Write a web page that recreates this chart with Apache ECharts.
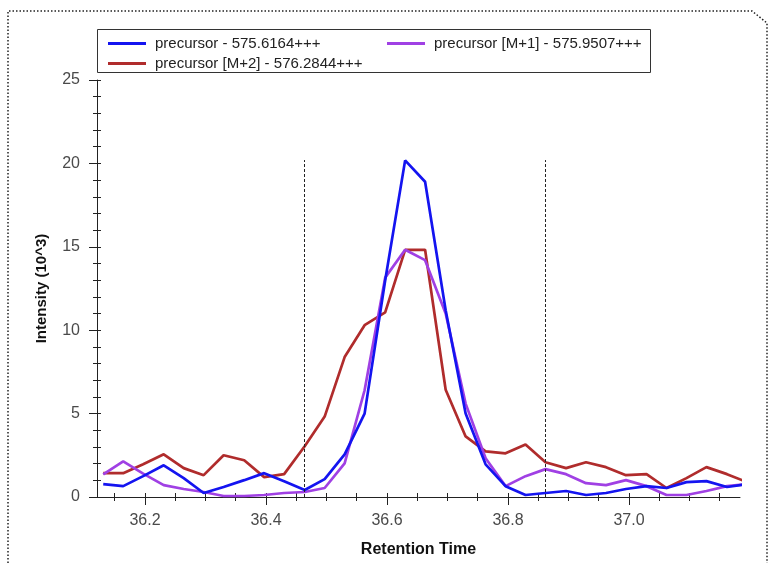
<!DOCTYPE html>
<html>
<head>
<meta charset="utf-8">
<script src="https://cdn.jsdelivr.net/npm/echarts@6/dist/echarts.min.js"></script>
<style>
html,body{margin:0;padding:0;background:#fff;}
#c{width:771px;height:563px;}
</style>
</head>
<body>
<div id="c"></div>
<script>
const seriesNames = ['precursor - 575.6164+++', 'precursor [M+1] - 575.9507+++', 'precursor [M+2] - 576.2844+++'];
const times = [36.131, 36.164, 36.197, 36.231, 36.264, 36.297, 36.330, 36.364, 36.397, 36.430, 36.464, 36.497, 36.530, 36.563, 36.597, 36.630, 36.663, 36.697, 36.730, 36.763, 36.796, 36.829, 36.862, 36.896, 36.929, 36.962, 36.995, 37.029, 37.062, 37.095, 37.128, 37.162, 37.195];
const precursor = [0.77, 0.65, 1.25, 1.90, 1.13, 0.24, 0.60, 1.01, 1.43, 0.95, 0.42, 1.07, 2.56, 5.0, 12.98, 20.18, 18.9, 11.2, 5.0, 1.96, 0.65, 0.12, 0.24, 0.36, 0.12, 0.24, 0.48, 0.65, 0.54, 0.89, 0.95, 0.60, 0.77];
const precursorM1 = [1.35, 2.14, 1.40, 0.71, 0.48, 0.30, 0.06, 0.06, 0.12, 0.24, 0.30, 0.54, 2.02, 6.4, 13.15, 14.82, 14.2, 11.0, 5.6, 2.32, 0.65, 1.25, 1.67, 1.37, 0.83, 0.71, 1.01, 0.65, 0.12, 0.12, 0.36, 0.65, 0.77];
const precursorM2 = [1.43, 1.43, 1.96, 2.56, 1.73, 1.31, 2.50, 2.20, 1.19, 1.37, 3.04, 4.82, 8.39, 10.3, 11.07, 14.82, 14.82, 6.43, 3.63, 2.74, 2.62, 3.15, 2.08, 1.73, 2.08, 1.79, 1.31, 1.37, 0.54, 1.13, 1.79, 1.37, 0.89];
const xTickLabels = [36.2, 36.4, 36.6, 36.8, 37.0];
const xMinorTicks = [36.15, 36.25, 36.3, 36.35, 36.45, 36.5, 36.55, 36.65, 36.7, 36.75, 36.85, 36.9, 36.95, 37.05, 37.1, 37.15];
const boundaries = [36.464, 36.862];
const boundaryTop = 20.2;
const xRange = [36.1207, 37.1835];
const yRange = [0, 25];

const colors = ['#1414f0', '#a040e4', '#b02c2c'];
const FONT = '"Liberation Sans", Arial, sans-serif';

const pairs = arr => times.map((t, i) => [t, arr[i]]);

const chart = echarts.init(document.getElementById('c'), null, {renderer: 'canvas'});

const baseX = {
  type: 'value', min: xRange[0], max: xRange[1], position: 'bottom',
  splitLine: {show: false}
};
const baseY = {
  type: 'value', min: yRange[0], max: yRange[1], interval: 5, position: 'left',
  splitLine: {show: false}
};

const option = {
  animation: false,
  backgroundColor: '#fff',
  grid: {left: 97, right: 31, top: 80, bottom: 62, containLabel: false},
  graphic: [
    {type: 'rect', z: 1, shape: {x: 97.5, y: 29.5, width: 553, height: 43},
     style: {fill: '#fff', stroke: '#333', lineWidth: 1}},
    {type: 'polyline', z: 1, shape: {points: [[8, 563], [8, 11], [752, 11], [767, 23], [767, 563]]},
     style: {fill: null, stroke: '#222', lineWidth: 1.5, lineDash: [1.5, 2]}}
  ],
  legend: [
    {data: [seriesNames[0]], left: 103, top: 31},
    {data: [seriesNames[1]], left: 382, top: 31},
    {data: [seriesNames[2]], left: 103, top: 51}
  ].map(l => Object.assign(l, {
    z: 10, selectedMode: false, icon: 'rect', itemWidth: 38, itemHeight: 3,
    textStyle: {fontFamily: FONT, fontSize: 15, color: '#222', padding: [0, 0, 0, 4]}
  })),
  xAxis: [
    Object.assign({}, baseX, {
      name: 'Retention Time', nameLocation: 'middle', nameGap: 45,
      nameTextStyle: {fontFamily: FONT, fontSize: 16, fontWeight: 'bold', color: '#111'},
      axisLine: {show: true, onZero: false, lineStyle: {color: '#222', width: 1}},
      axisTick: {show: true, customValues: xTickLabels, length: 8, lineStyle: {color: '#222'}},
      axisLabel: {customValues: xTickLabels, fontFamily: FONT, fontSize: 16, color: '#4a4a4a', margin: 16,
        formatter: v => Number(v).toFixed(1)}
    }),
    Object.assign({}, baseX, {
      axisLine: {show: false},
      axisTick: {show: true, customValues: xMinorTicks, length: 4, lineStyle: {color: '#222'}},
      axisLabel: {show: false}
    }),
    Object.assign({}, baseX, {
      axisLine: {show: false},
      axisTick: {show: true, inside: true, customValues: xTickLabels.concat(xMinorTicks), length: 4, lineStyle: {color: '#222'}},
      axisLabel: {show: false}
    })
  ],
  yAxis: [
    Object.assign({}, baseY, {
      name: 'Intensity (10^3)', nameLocation: 'middle', nameGap: 48,
      nameTextStyle: {fontFamily: FONT, fontSize: 15, fontWeight: 'bold', color: '#111'},
      axisLine: {show: true, onZero: false, lineStyle: {color: '#222', width: 1}},
      axisTick: {show: true, length: 8, lineStyle: {color: '#222'}},
      minorTick: {show: true, splitNumber: 5, length: 4, lineStyle: {color: '#222'}},
      axisLabel: {fontFamily: FONT, fontSize: 16, color: '#4a4a4a', margin: 17}
    }),
    Object.assign({}, baseY, {
      axisLine: {show: false},
      axisTick: {show: true, inside: true, length: 4, lineStyle: {color: '#222'}},
      minorTick: {show: true, splitNumber: 5, length: 4, lineStyle: {color: '#222'}},
      axisLabel: {show: false}
    })
  ],
  series: [
    {name: seriesNames[2], data: pairs(precursorM2), color: colors[2]},
    {name: seriesNames[1], data: pairs(precursorM1), color: colors[1]},
    {name: seriesNames[0], data: pairs(precursor), color: colors[0],
     markLine: {
       silent: true, symbol: 'none', label: {show: false},
       lineStyle: {color: '#222', type: [3, 2], width: 1},
       data: boundaries.map(b => [{coord: [b, 0]}, {coord: [b, boundaryTop]}])
     }}
  ].map(s => Object.assign(s, {
    type: 'line', xAxisIndex: 0, yAxisIndex: 0, showSymbol: false, symbol: 'none',
    clip: true, lineStyle: {width: 2.7}, emphasis: {disabled: true}
  }))
};
chart.setOption(option);
</script>
</body>
</html>
